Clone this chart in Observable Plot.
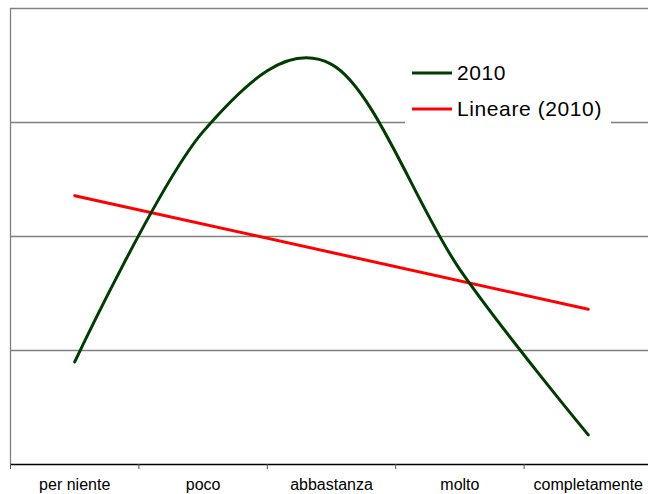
<!DOCTYPE html>
<html>
<head>
<meta charset="utf-8">
<script src="https://cdn.jsdelivr.net/npm/d3@7"></script>
<script src="https://cdn.jsdelivr.net/npm/@observablehq/plot@0.6"></script>
<style>
  html, body { margin: 0; padding: 0; background: #fff; }
  body { width: 648px; height: 494px; overflow: hidden; font-family: "Liberation Sans", Arial, sans-serif; }
  #wrap { position: relative; width: 648px; height: 494px; }
  #legend { position: absolute; left: 405px; top: 52px; width: 206px; height: 76px; background: #fff; }
  .item { position: absolute; left: 7px; height: 24px; display: flex; align-items: center; font-size: 21px; letter-spacing: 0.6px; color: #000; }
  .item svg { margin-right: 5px; }
</style>
</head>
<body>
<div id="wrap">
  <div id="chart"></div>
  <div id="legend"></div>
</div>
<script>
const categories = ["per niente", "poco", "abbastanza", "molto", "completamente"];
const values2010 = [9.0, 29.2, 35.1, 17.1, 2.6];
const yTicks = [10, 20, 30, 40];
const seriesName = "2010";
const trendName = "Lineare (2010)";
const lineColor = "#003b00";
const trendColor = "#ff0000";

const data = categories.map((c, i) => ({pos: i + 1, cat: c, value: values2010[i]}));
const boundaries = d3.range(0.5, categories.length + 1, 1);

const chart = Plot.plot({
  width: 648,
  height: 494,
  marginLeft: 10,
  marginRight: -4,
  marginTop: 8,
  marginBottom: 30,
  style: {fontFamily: '"Liberation Sans", Arial, sans-serif', background: "#fff", overflow: "visible"},
  x: {type: "linear", domain: [0.5, categories.length + 0.5], axis: null, label: null},
  y: {domain: [0, 40], axis: null, label: null},
  marks: [
    Plot.gridY(yTicks, {stroke: "#808080", strokeOpacity: 1, strokeWidth: 1.3}),
    Plot.ruleX([0.5], {stroke: "#808080", strokeWidth: 1.3}),
    Plot.ruleY([0], {stroke: "#000", strokeWidth: 1.3}),
    Plot.axisX(boundaries, {tickSize: 5, tickFormat: () => "", stroke: "#555", label: null}),
    Plot.axisX(d3.range(1, categories.length + 1), {tickSize: 0, tickPadding: 14, tickFormat: i => categories[i - 1], fontSize: 16, fill: "#000", label: null}),
    Plot.linearRegressionY(data, {x: "pos", y: "value", ci: 0, stroke: trendColor, strokeWidth: 3}),
    Plot.line(data, {x: "pos", y: "value", stroke: lineColor, strokeWidth: 3, curve: d3.curveCardinal.tension(0)})
  ]
});
document.getElementById("chart").appendChild(chart);

const legend = document.getElementById("legend");
[[seriesName, lineColor, 9], [trendName, trendColor, 45]].forEach(([name, color, top]) => {
  const div = document.createElement("div");
  div.className = "item";
  div.style.top = top + "px";
  div.innerHTML = `<svg width="40" height="4"><line x1="0" x2="40" y1="2" y2="2" stroke="${color}" stroke-width="3"/></svg><span></span>`;
  div.querySelector("span").textContent = name;
  legend.appendChild(div);
});
</script>
</body>
</html>
